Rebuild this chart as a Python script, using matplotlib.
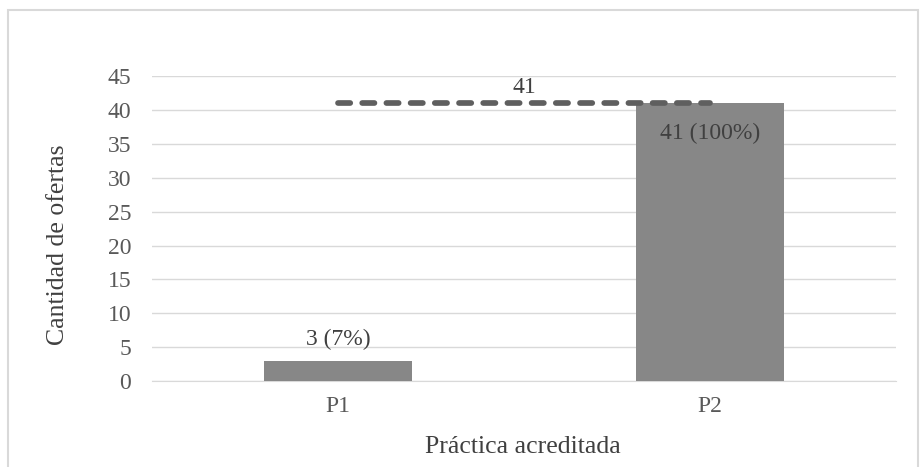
import matplotlib.pyplot as plt
from matplotlib.patches import Rectangle

categorias = ['P1', 'P2']
ofertas = [3, 41]
porcentajes = ['7%', '100%']
maximo = 41

plt.rcParams['font.family'] = ['Liberation Serif', 'DejaVu Serif']

fig = plt.figure(figsize=(9.23, 4.67), dpi=100)
ax = fig.add_axes([0.1647, 0.184, 0.806, 0.653])

x = range(len(categorias))
bars = ax.bar(x, ofertas, width=0.4, color='#878787', zorder=3)

# linea discontinua con el maximo
ax.plot([0, 1], [maximo, maximo], color='#5f5f5f', linewidth=4.1,
        linestyle=(0, (2.15, 2.1)), dash_capstyle='round', zorder=4)
ax.annotate(str(maximo), xy=(0.5, maximo), xytext=(0, 4), textcoords='offset points',
            ha='center', va='bottom', fontsize=17, color='#404040')

# etiquetas de datos
ax.annotate(f'{ofertas[0]} ({porcentajes[0]})', xy=(0, ofertas[0]), xytext=(0, 8),
            textcoords='offset points', ha='center', va='bottom', fontsize=17, color='#404040')
ax.annotate(f'{ofertas[1]} ({porcentajes[1]})', xy=(1, ofertas[1]), xytext=(0, -14),
            textcoords='offset points', ha='center', va='top', fontsize=17, color='#404040')

ax.set_xlim(-0.5, 1.5)
ax.set_ylim(0, 45)
ax.set_yticks(range(0, 46, 5))
ax.set_xticks(list(x))
ax.set_xticklabels(categorias)
ax.tick_params(length=0, labelsize=17, colors='#595959')
ax.tick_params(axis='x', pad=11)
ax.tick_params(axis='y', pad=15)
ax.grid(axis='y', color='#d9d9d9', linewidth=1, zorder=0)
for s in ['top', 'right', 'left']:
    ax.spines[s].set_visible(False)
ax.spines['bottom'].set_color('#d9d9d9')

fig.text(58 / 923, 1 - 245 / 467, 'Cantidad de ofertas', rotation=90, fontsize=18.5,
         color='#404040', ha='center', va='center')
fig.text(523 / 923, 1 - 447 / 467, 'Práctica acreditada', fontsize=18.5,
         color='#404040', ha='center', va='center')

fig.patches.append(Rectangle((8 / 923, -0.05), 910 / 923, 1.05 - 10 / 467,
                             transform=fig.transFigure, fill=False,
                             edgecolor='#d9d9d9', linewidth=1.5))

fig.savefig('out.png', dpi=100)
